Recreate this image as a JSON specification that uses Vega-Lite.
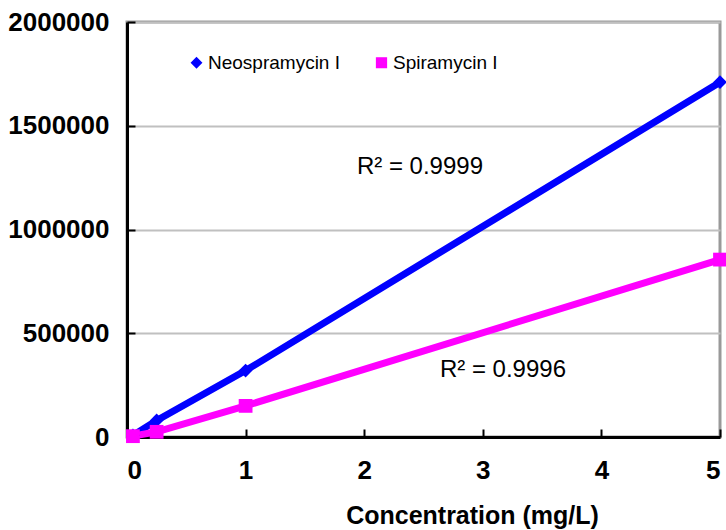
{
  "$schema": "https://vega.github.io/schema/vega-lite/v6.json",
  "width": 593,
  "height": 415,
  "autosize": {"type": "none"},
  "padding": {"left": 127, "top": 22, "right": 6, "bottom": 93},
  "background": "white",
  "config": {
    "view": {"stroke": "#999999", "strokeWidth": 3},
    "font": "Liberation Sans"
  },
  "datasets": {
    "pts": [
      {"series": "Neospramycin I", "conc": 0.05, "area": 8000},
      {"series": "Neospramycin I", "conc": 0.25, "area": 80000},
      {"series": "Neospramycin I", "conc": 1, "area": 320000},
      {"series": "Neospramycin I", "conc": 5, "area": 1710000},
      {"series": "Spiramycin I", "conc": 0.05, "area": 4000},
      {"series": "Spiramycin I", "conc": 0.25, "area": 25000},
      {"series": "Spiramycin I", "conc": 1, "area": 150000},
      {"series": "Spiramycin I", "conc": 5, "area": 855000}
    ],
    "labels": [
      {"conc": 2.47, "area": 1300000, "text": "R² = 0.9999"},
      {"conc": 3.17, "area": 323000, "text": "R² = 0.9996"}
    ]
  },
  "encoding": {
    "x": {
      "field": "conc", "type": "quantitative",
      "scale": {"domain": [0, 5], "nice": false, "zero": false},
      "axis": {
        "values": [0, 1, 2, 3, 4, 5], "grid": false,
        "domainColor": "black", "domainWidth": 3,
        "tickColor": "black", "tickWidth": 2, "tickSize": -8,
        "labelFont": "Liberation Sans", "labelFontWeight": "bold", "labelFontSize": 26,
        "labelColor": "black", "labelPadding": 28,
        "title": "Concentration (mg/L)",
        "titleFont": "Liberation Sans", "titleFontWeight": "bold", "titleFontSize": 25,
        "titleColor": "black", "titleX": 345, "titleY": 91, "titleBaseline": "bottom"
      }
    },
    "y": {
      "field": "area", "type": "quantitative",
      "scale": {"domain": [0, 2000000], "nice": false},
      "axis": {
        "values": [0, 500000, 1000000, 1500000, 2000000], "format": "d",
        "grid": true, "gridColor": "#c0c0c0", "gridWidth": 2,
        "domainColor": "black", "domainWidth": 3,
        "tickColor": "black", "tickWidth": 2, "tickSize": -8,
        "labelFont": "Liberation Sans", "labelFontWeight": "bold", "labelFontSize": 26,
        "labelColor": "black", "labelPadding": 26,
        "title": null
      }
    }
  },
  "layer": [
    {
      "data": {"name": "pts"},
      "mark": {"type": "line", "strokeWidth": 7},
      "encoding": {
        "color": {"field": "series", "type": "nominal",
          "scale": {"domain": ["Neospramycin I", "Spiramycin I"], "range": ["#0000ff", "#ff00ff"]}}
      }
    },
    {
      "data": {"name": "pts"},
      "mark": {"type": "point", "filled": true, "size": 190, "opacity": 1},
      "encoding": {
        "color": {"field": "series", "type": "nominal",
          "legend": {
            "orient": "none", "legendX": 60, "legendY": 31, "direction": "horizontal",
            "title": null, "symbolSize": 95, "labelFontSize": 19, "labelColor": "black",
            "labelFont": "Liberation Sans", "columnPadding": 32, "labelOffset": 2
          }},
        "shape": {"field": "series", "type": "nominal",
          "scale": {"domain": ["Neospramycin I", "Spiramycin I"], "range": ["diamond", "square"]},
          "legend": {
            "orient": "none", "legendX": 60, "legendY": 31, "direction": "horizontal",
            "title": null, "symbolSize": 95, "labelFontSize": 19, "labelColor": "black",
            "labelFont": "Liberation Sans", "columnPadding": 32, "labelOffset": 2
          }}
      }
    },
    {
      "data": {"name": "labels"},
      "mark": {"type": "text", "fontSize": 24, "font": "Liberation Sans", "color": "black"},
      "encoding": {"text": {"field": "text"}}
    }
  ]
}
